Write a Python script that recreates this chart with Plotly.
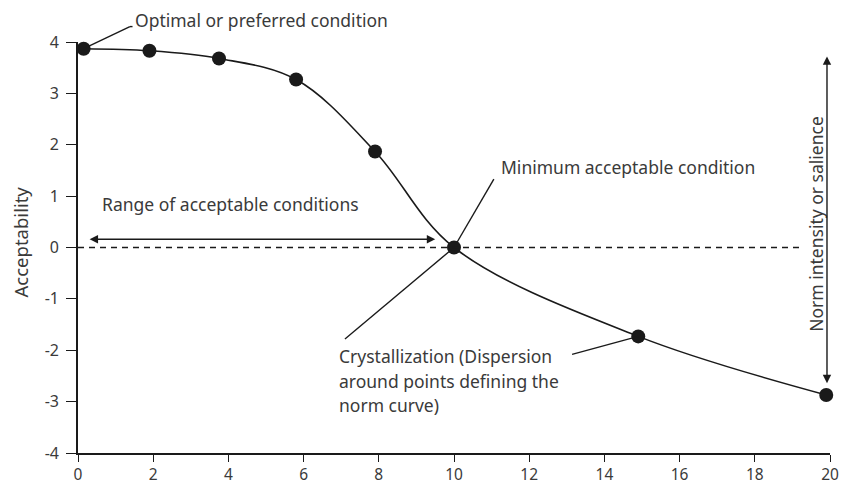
import plotly.graph_objects as go

# Data
cond_x = [0.15, 1.9, 3.75, 5.8, 7.9, 10.0, 14.9, 19.9]
accept_y = [3.87, 3.83, 3.68, 3.27, 1.87, 0.0, -1.73, -2.87]
x_ticks = [0, 2, 4, 6, 8, 10, 12, 14, 16, 18, 20]
y_ticks = [4, 3, 2, 1, 0, -1, -2, -3, -4]
y_tick_labels = ["4", "3", "2", "1", "0", "-1", "-2", "-3", "-4"]

FONT = "Noto Sans"
TXT = "#3a3a3a"
INK = "#1a1a1a"
FS = 17.5

X0, X1, Y0, Y1 = 0, 20, -4, 4


def px(x):
    return (x - X0) / (X1 - X0)


def py(y):
    return (y - Y0) / (Y1 - Y0)


fig = go.Figure()

fig.add_trace(go.Scatter(
    x=cond_x, y=accept_y, mode="lines+markers",
    line=dict(shape="spline", smoothing=1.0, color=INK, width=1.6),
    marker=dict(size=14, color=INK),
    cliponaxis=False, hoverinfo="skip", showlegend=False,
))


def seg(xa, ya, xb, yb, **kw):
    return dict(type="line", xref="paper", yref="paper",
                x0=px(xa), y0=py(ya), x1=px(xb), y1=py(yb),
                line=dict(color=INK, width=1.4, **kw))


shapes = [
    seg(0, 0, 19.25, 0, dash="6px,5px"),
    seg(cond_x[0], accept_y[0], 1.38, 4.3),
    seg(1.38, 4.3, 1.45, 4.3),
    seg(cond_x[5], accept_y[5], 11.06, 1.33),
    seg(cond_x[5], accept_y[5], 7.1, -1.78),
    seg(13.14, -2.08, cond_x[6], accept_y[6]),
]


def label(x, y, text, **kw):
    d = dict(x=px(x), y=py(y), xref="paper", yref="paper", text=text, showarrow=False,
             xanchor="left", yanchor="middle", font=dict(size=FS, color=TXT, family=FONT))
    d.update(kw)
    return d


annotations = [
    label(1.47, 4.42, "Optimal or preferred condition"),
    label(11.2, 1.56, "Minimum acceptable condition"),
    label(0.58, 0.84, "Range of acceptable conditions"),
    label(6.9, -2.12, "Crystallization (Dispersion"),
    label(6.9, -2.59, "around points defining the"),
    label(6.9, -3.06, "norm curve)"),
    label(19.64, 0.47, "Norm intensity or salience", textangle=-90, xanchor="center"),
    dict(x=-0.077, y=py(0.1), xref="paper", yref="paper", text="Acceptability", textangle=-90,
         showarrow=False, xanchor="center", yanchor="middle",
         font=dict(size=18.5, color=TXT, family=FONT)),
    # double arrow: range of acceptable conditions
    dict(x=9.5, y=0.16, ax=0.27, ay=0.16, xref="x", yref="y", axref="x", ayref="y",
         text="", showarrow=True, arrowhead=2, arrowside="end+start", arrowsize=1.2,
         arrowwidth=1.4, arrowcolor=INK, standoff=0, startstandoff=0),
    # double arrow: norm intensity
    dict(x=19.92, y=3.72, ax=19.92, ay=-2.67, xref="x", yref="y", axref="x", ayref="y",
         text="", showarrow=True, arrowhead=2, arrowside="end+start", arrowsize=1.2,
         arrowwidth=1.4, arrowcolor=INK, standoff=0, startstandoff=0),
]

fig.update_layout(
    width=843, height=488,
    margin=dict(l=78, r=13, t=42, b=35, autoexpand=False),
    plot_bgcolor="white", paper_bgcolor="white",
    shapes=shapes, annotations=annotations,
    font=dict(family=FONT, color=TXT),
    showlegend=False,
)
fig.update_xaxes(range=[X0, X1], tickvals=x_ticks, showgrid=False, zeroline=False,
                 showline=True, linecolor=INK, linewidth=1.6, ticks="outside", ticklen=7,
                 tickcolor=INK, tickwidth=1.4, ticklabelstandoff=0,
                 tickfont=dict(size=15.5, color=TXT, family=FONT))
fig.update_yaxes(range=[Y0, Y1], tickvals=y_ticks, ticktext=y_tick_labels,
                 showgrid=False, zeroline=False,
                 showline=True, linecolor=INK, linewidth=1.6, ticks="outside", ticklen=10,
                 tickcolor=INK, tickwidth=1.4, ticklabelstandoff=4,
                 tickfont=dict(size=16, color=TXT, family=FONT))

fig.write_html("out.html", config={"displayModeBar": False},
               post_script="document.body.style.margin='0px';document.body.style.overflow='hidden';")
